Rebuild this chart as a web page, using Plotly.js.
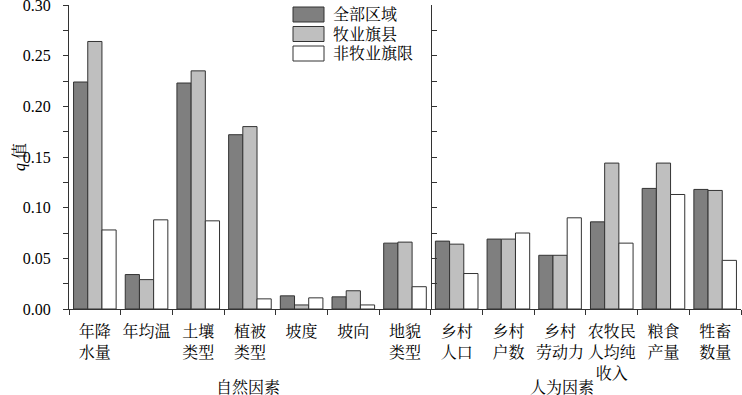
<!DOCTYPE html>
<html>
<head>
<meta charset="utf-8">
<script src="https://cdn.plot.ly/plotly-3.0.1.min.js"></script>
<style>html,body{margin:0;padding:0;background:#fff;}#chart{width:742px;height:395px;}</style>
</head>
<body>
<div id="chart"></div>
<script>
const categories = ['年降<br>水量','年均温','土壤<br>类型','植被<br>类型','坡度','坡向','地貌<br>类型','乡村<br>人口','乡村<br>户数','乡村<br>劳动力','农牧民<br>人均纯<br>收入','粮食<br>产量','牲畜<br>数量'];
const seriesNames = ['全部区域','牧业旗县','非牧业旗限'];
const allRegion = [0.224,0.034,0.223,0.172,0.013,0.012,0.065,0.067,0.069,0.053,0.086,0.119,0.118];
const pastoral  = [0.264,0.029,0.235,0.180,0.004,0.018,0.066,0.064,0.069,0.053,0.144,0.144,0.117];
const nonPast   = [0.078,0.088,0.087,0.010,0.011,0.004,0.022,0.035,0.075,0.090,0.065,0.113,0.048];
const groupTitles = ['自然因素','人为因素'];
const yTickVals = [0,0.05,0.10,0.15,0.20,0.25,0.30];

const colors = ['#7f7f7f','#bfbfbf','#ffffff'];
const FONT = 'Liberation Serif, "Noto Serif CJK SC", "Noto Sans CJK SC", serif';
const W=742,H=395,L=69,R=1,T=5,B=86;
const pw=W-L-R, ph=H-T-B;
const px2x = p => (p-L)/pw;
const px2y = p => (H-B-p)/ph;

const data = [allRegion,pastoral,nonPast].map((vals,k)=>({
  type:'bar', x:categories, y:vals, name:seriesNames[k],
  marker:{color:colors[k], line:{color:'#333', width:1}},
  showlegend:false, hoverinfo:'y'
}));
// invisible trace for divider axis
data.push({type:'scatter', x:[categories[0]], y:[0], yaxis:'y2', mode:'markers', marker:{opacity:0}, showlegend:false, hoverinfo:'skip'});

const shapes=[], annotations=[];
const legTop=[7,26.5,46];
seriesNames.forEach((n,k)=>{
  shapes.push({type:'rect', xref:'paper', yref:'paper', x0:px2x(293), x1:px2x(324), y0:px2y(legTop[k]+15), y1:px2y(legTop[k]), fillcolor:colors[k], line:{color:'#333', width:1}});
  annotations.push({xref:'paper', yref:'paper', x:px2x(331), y:px2y(legTop[k]+7.5), xanchor:'left', yanchor:'middle', text:n, showarrow:false, font:{family:FONT, size:16, color:'#000'}});
});
annotations.push({xref:'x', yref:'paper', x:2.96, y:px2y(387), text:groupTitles[0], showarrow:false, xanchor:'center', yanchor:'middle', font:{family:FONT,size:16,color:'#000'}});
annotations.push({xref:'x', yref:'paper', x:9.04, y:px2y(387), text:groupTitles[1], showarrow:false, xanchor:'center', yanchor:'middle', font:{family:FONT,size:16,color:'#000'}});
annotations.push({xref:'paper', yref:'paper', x:px2x(20), y:px2y(157), text:'<i>q</i>\u00a0值', textangle:-90, showarrow:false, xanchor:'center', yanchor:'middle', font:{family:FONT,size:16,color:'#000'}});

const layout = {
  width:W, height:H,
  margin:{l:L, r:R, t:T, b:B, pad:0},
  paper_bgcolor:'#fff', plot_bgcolor:'#fff',
  barmode:'group', bargap:0.176, bargroupgap:0,
  font:{family:FONT, size:16, color:'#000'},
  xaxis:{
    type:'category', range:[-0.5,12.5], tickson:'boundaries', tickangle:0,
    ticks:'outside', ticklen:5, tickcolor:'#333', ticklabelstandoff:8,
    showline:true, linecolor:'#333', linewidth:1, showgrid:false, zeroline:false,
    tickfont:{family:FONT,size:16,color:'#000'}, fixedrange:true, automargin:false
  },
  yaxis:{
    range:[0,0.30], tickvals:yTickVals, tickformat:'.2f', ticks:'outside', ticklen:5, tickcolor:'#333',
    ticklabeloverflow:'allow', ticklabelstandoff:9,
    minor:{dtick:0.025, ticks:'outside', ticklen:5, tickcolor:'#333', showgrid:false},
    showline:true, linecolor:'#333', linewidth:1, showgrid:false, zeroline:false,
    tickfont:{family:FONT,size:16,color:'#000'}, automargin:false
  },
  yaxis2:{
    overlaying:'y', anchor:'free', position:7/13, side:'left', range:[0,0.30],
    tickvals:yTickVals, ticks:'inside', ticklen:5, tickcolor:'#333',
    minor:{dtick:0.025, ticks:'inside', ticklen:5, tickcolor:'#333', showgrid:false},
    showticklabels:false, showline:true, linecolor:'#333', linewidth:1, showgrid:false, zeroline:false
  },
  shapes:shapes, annotations:annotations
};
Plotly.newPlot('chart', data, layout, {displayModeBar:false, staticPlot:true});
</script>
</body>
</html>
